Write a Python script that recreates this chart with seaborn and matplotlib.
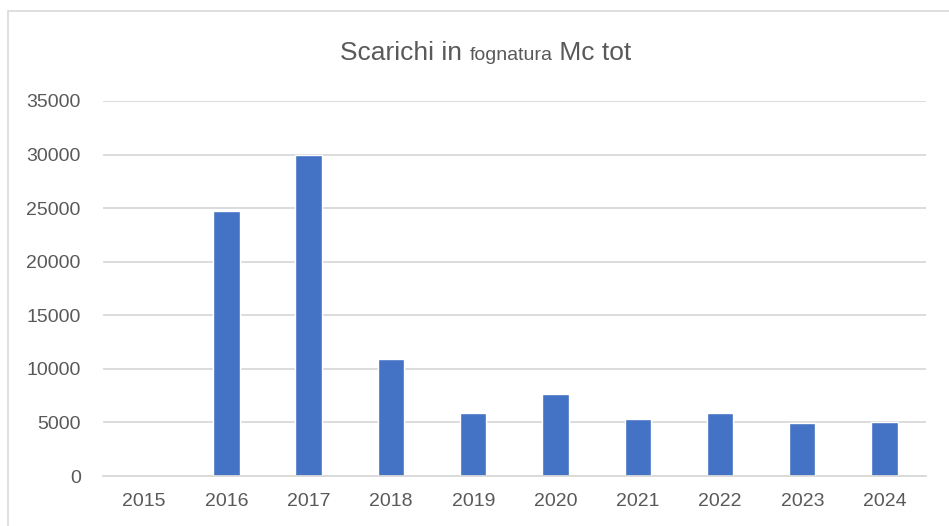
import pandas as pd
import seaborn as sns
import matplotlib.pyplot as plt
from matplotlib.patches import Rectangle

# Data
years = ['2015', '2016', '2017', '2018', '2019', '2020', '2021', '2022', '2023', '2024']
mc_tot = [0, 24700, 30000, 10900, 5850, 7650, 5290, 5870, 4990, 5030]
y_ticks = [0, 5000, 10000, 15000, 20000, 25000, 30000, 35000]

df = pd.DataFrame({'anno': years, 'mc': mc_tot})

sns.set_theme(style='white')
plt.rcParams['font.family'] = ['Liberation Sans Narrow', 'Liberation Sans', 'DejaVu Sans']

fig = plt.figure(figsize=(9.49, 5.26), dpi=100)
ax = fig.add_axes([0.1085, 0.095, 0.867, 0.713])

sns.barplot(data=df, x='anno', y='mc', color='#4472C4', width=0.32,
            saturation=1, ax=ax)

ax.set_ylim(0, 35000)
ax.set_yticks(y_ticks)
ax.set_yticklabels([str(v) for v in y_ticks])
ax.yaxis.grid(True, color='#d9d9d9', linewidth=1.3)
ax.set_axisbelow(True)
for s in ['top', 'right', 'left']:
    ax.spines[s].set_visible(False)
ax.spines['bottom'].set_color('#d9d9d9')
ax.spines['bottom'].set_linewidth(1.3)
ax.tick_params(axis='both', length=0, labelsize=14, colors='#595959')
ax.tick_params(axis='y', pad=16)
ax.tick_params(axis='x', pad=12)
ax.set_xlabel('')
ax.set_ylabel('')

# outer chart border
fig.patches.append(Rectangle((0.008, -0.05), 1.1, 1.03, transform=fig.transFigure,
                             fill=False, edgecolor='#d9d9d9', linewidth=1.2))

# title with a smaller middle word
parts = [('Scarichi in ', 19), ('fognatura', 14), (' Mc tot', 19)]
fig.canvas.draw()
renderer = fig.canvas.get_renderer()
texts = []
for txt, size in parts:
    t = fig.text(0, 0.885, txt, fontsize=size, color='#595959', va='baseline', ha='left')
    texts.append(t)
widths = [t.get_window_extent(renderer).width / fig.bbox.width for t in texts]
x = 0.512 - sum(widths) / 2
for t, w in zip(texts, widths):
    t.set_x(x)
    x += w

fig.savefig('out.png', dpi=100)
